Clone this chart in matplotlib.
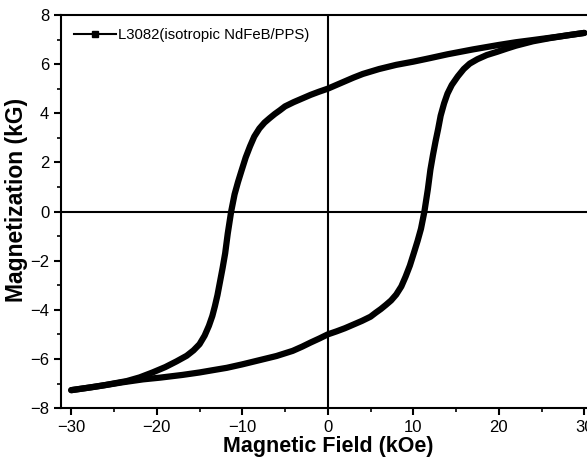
import matplotlib
matplotlib.use("Agg")
import matplotlib.pyplot as plt
from matplotlib.lines import Line2D
from matplotlib.ticker import MultipleLocator

plt.rcParams['font.family'] = ['Liberation Sans', 'DejaVu Sans']

# descending branch (field swept from +30 to -30 kOe)
h_down = [30, 27, 24, 22, 20, 17, 14, 11.9, 10, 8, 6, 4.1, 3, 2, 1, 0, -1, -2, -3,
          -4, -5, -5.6, -6.2, -6.8, -7.4, -8.0, -8.6, -9.1, -9.6, -10.1, -10.5,
          -10.9, -11.3, -11.7, -12.0, -12.3, -12.6, -12.9, -13.2, -13.5, -13.9,
          -14.4, -15.0, -15.7, -16.5, -17.7, -19.0, -20.5, -22, -23.5, -26, -28, -30]
m_down = [7.27, 7.12, 6.98, 6.89, 6.78, 6.6, 6.4, 6.24, 6.1, 5.97, 5.8, 5.6, 5.45,
          5.3, 5.15, 5.0, 4.88, 4.75, 4.6, 4.45, 4.28, 4.12, 3.97, 3.8, 3.62, 3.38,
          3.05, 2.65, 2.2, 1.65, 1.2, 0.7, 0.0, -0.9, -1.7, -2.3, -2.85, -3.4,
          -3.85, -4.25, -4.65, -5.05, -5.4, -5.65, -5.87, -6.1, -6.33, -6.55,
          -6.75, -6.9, -7.06, -7.17, -7.27]

# ascending branch (field swept from -30 to +30 kOe)
h_up = [-30, -27, -24, -21.6, -19.6, -17, -15, -13.5, -11.8, -10, -8, -6, -4.1, -3,
        -2, -1, 0, 1, 2, 3, 4, 5, 5.6, 6.2, 6.8, 7.4, 8.0, 8.6, 9.1, 9.6, 10.1,
        10.5, 10.9, 11.3, 11.7, 12.0, 12.3, 12.6, 12.9, 13.2, 13.6, 14.0, 14.5,
        15.2, 15.9, 16.6, 17.5, 18.6, 19.8, 21, 22, 24, 26, 28, 30]
m_up = [-7.27, -7.12, -6.95, -6.83, -6.76, -6.65, -6.55, -6.46, -6.36, -6.22, -6.05,
        -5.88, -5.67, -5.5, -5.33, -5.17, -5.0, -4.88, -4.75, -4.6, -4.45, -4.28,
        -4.12, -3.97, -3.8, -3.62, -3.38, -3.05, -2.65, -2.2, -1.65, -1.2, -0.7,
        0.0, 0.9, 1.7, 2.3, 2.85, 3.35, 3.9, 4.4, 4.8, 5.15, 5.5, 5.8, 6.02, 6.2,
        6.37, 6.5, 6.64, 6.75, 6.93, 7.06, 7.17, 7.27]

label = 'L3082(isotropic NdFeB/PPS)'

fig = plt.figure(figsize=(5.87, 4.68), dpi=100)
ax = fig.add_axes([0.1039, 0.128, 0.909, 0.840])

ax.axhline(0, color='black', lw=1.5, zorder=1)
ax.axvline(0, color='black', lw=1.5, zorder=1)

ax.plot(h_down, m_down, color='black', lw=4.5, solid_capstyle='round',
        solid_joinstyle='round', zorder=3)
ax.plot(h_up, m_up, color='black', lw=4.5, solid_capstyle='round',
        solid_joinstyle='round', zorder=3)

ax.set_xlim(-31.2, 31.2)
ax.set_ylim(-8, 8)
ax.xaxis.set_major_locator(MultipleLocator(10))
ax.xaxis.set_minor_locator(MultipleLocator(5))
ax.yaxis.set_major_locator(MultipleLocator(2))
ax.yaxis.set_minor_locator(MultipleLocator(1))
ax.tick_params(which='major', direction='out', length=5, width=1.5, labelsize=12)
ax.tick_params(which='minor', direction='out', length=3, width=1.2)
for s in ax.spines.values():
    s.set_linewidth(1.5)

ax.set_xlabel('Magnetic Field (kOe)', fontsize=15.5, fontweight='bold', labelpad=1)
ax.set_ylabel('Magnetization (kG)', fontsize=16.5, fontweight='bold')
ax.yaxis.set_label_coords(-0.062, 0.53)

handle = Line2D([], [], color='black', lw=1.5, marker='s', markersize=4)
ax.legend([handle], [label], loc='upper left', frameon=False, fontsize=10.7,
          handlelength=2.8, handletextpad=0.15, borderaxespad=0.5)

fig.savefig('out.png', dpi=100)
